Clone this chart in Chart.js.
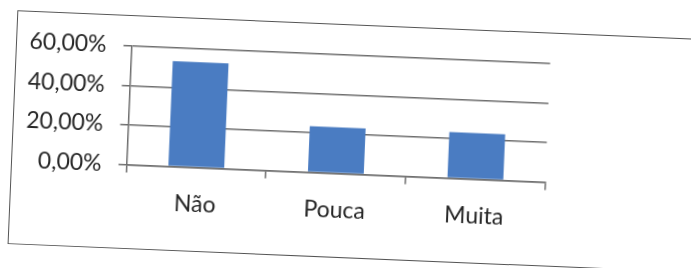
<!DOCTYPE html>
<html>
<head>
<meta charset="utf-8">
<script src="https://cdn.jsdelivr.net/npm/chart.js@4.4.1/dist/chart.umd.min.js"></script>
<style>
  html, body { margin: 0; padding: 0; width: 691px; height: 268px; overflow: hidden; background: #fff; }
  #wrap { position: absolute; left: 0; top: 0; width: 760px; height: 300px;
          transform-origin: 126.5px 164.5px; transform: rotate(2.4deg); }
  #frame { position: absolute; left: 11px; top: 15px; width: 740px; height: 234px;
           border: 1.5px solid #555; box-sizing: border-box; }
  canvas { position: absolute; left: 0; top: 0; }
</style>
</head>
<body>
<div id="wrap">
  <div id="frame"></div>
  <canvas id="c" width="691" height="268"></canvas>
</div>
<script>
const categories = ["Não", "Pouca", "Muita"];
const values = [53.33, 23.33, 23.33];
const tickValues = [0, 20, 40, 60];
const tickLabels = ["0,00%", "20,00%", "40,00%", "60,00%"];

const gridColor = '#6e6e6e';
const textColor = '#262626';
const font = { family: 'Lato', size: 23 };

new Chart(document.getElementById('c'), {
  type: 'bar',
  data: {
    labels: categories,
    datasets: [{
      data: values,
      backgroundColor: '#4a7cc2',
      borderWidth: 0,
      categoryPercentage: 1,
      barPercentage: 0.4
    }]
  },
  options: {
    responsive: false,
    animation: false,
    devicePixelRatio: 1,
    layout: { padding: { left: 6.5, top: 46, right: 145.5, bottom: 43.5 } },
    plugins: { legend: { display: false }, tooltip: { enabled: false } },
    scales: {
      x: {
        grid: { drawOnChartArea: false, drawTicks: true, tickLength: 8, color: gridColor, lineWidth: 1.5, offset: true },
        border: { display: true, color: gridColor, width: 1.5 },
        ticks: { color: textColor, font: font, padding: 15, maxRotation: 0 },
        afterFit: (s) => { s.height = 60; }
      },
      y: {
        min: 0, max: 60,
        afterBuildTicks: (s) => { s.ticks = tickValues.map(v => ({ value: v })); },
        grid: { color: gridColor, lineWidth: 1.5, tickLength: 8, drawTicks: true },
        border: { display: true, color: gridColor, width: 1.5 },
        ticks: {
          color: textColor, font: font, padding: 17,
          callback: (v) => tickLabels[tickValues.indexOf(v)]
        },
        afterFit: (s) => { s.width = 120; }
      }
    }
  }
});
</script>
</body>
</html>
